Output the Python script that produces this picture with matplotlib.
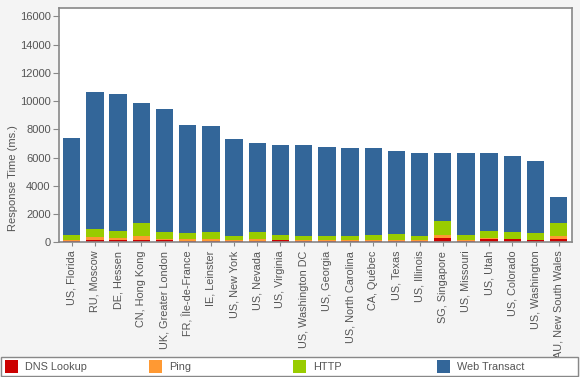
import matplotlib
matplotlib.use("Agg")
import matplotlib.pyplot as plt
import numpy as np
from matplotlib.patches import Rectangle

plt.rcParams['font.family'] = ['Liberation Sans', 'DejaVu Sans']

locations = ["US, Florida", "RU, Moscow", "DE, Hessen", "CN, Hong Kong", "UK, Greater London",
             "FR, Île-de-France", "IE, Leinster", "US, New York", "US, Nevada", "US, Virginia",
             "US, Washington DC", "US, Georgia", "US, North Carolina", "CA, Québec", "US, Texas",
             "US, Illinois", "SG, Singapore", "US, Missouri", "US, Utah", "US, Colorado",
             "US, Washington", "AU, New South Wales"]

total = [7400, 10650, 10500, 9870, 9450, 8310, 8250, 7320, 7040, 6900, 6900, 6760, 6690,
         6690, 6480, 6340, 6340, 6340, 6340, 6120, 5770, 3210]
dns = [110, 190, 190, 190, 190, 110, 110, 90, 110, 165, 90, 90, 90, 90, 90, 90, 280, 90, 230, 230, 165, 236]
ping = [80, 190, 140, 260, 40, 130, 100, 50, 100, 20, 70, 70, 70, 70, 70, 60, 220, 50, 40, 30, 30, 190]
http = [330, 540, 450, 920, 480, 400, 500, 310, 500, 310, 265, 290, 290, 360, 430, 300, 990, 360, 510, 450, 445, 920]
web = [t - d - p - h for t, d, p, h in zip(total, dns, ping, http)]

series_names = ["DNS Lookup", "Ping", "HTTP", "Web Transact"]
series_colors = ["#cc0000", "#ff9933", "#99cc00", "#336699"]
yticks = [0, 2000, 4000, 6000, 8000, 10000, 12000, 14000, 16000]

fig = plt.figure(figsize=(5.8, 3.77), dpi=100, facecolor="#f4f4f4")
ax = fig.add_axes([59/580, 1 - 242.3/377, 512.5/580, 234.3/377])
ax.set_facecolor("white")

x = np.arange(len(locations))
bottom = np.zeros(len(locations))
for vals, col in zip([dns, ping, http, web], series_colors):
    ax.bar(x, vals, width=0.75, bottom=bottom, color=col, linewidth=0)
    bottom += np.array(vals)

ax.set_xlim(-0.55, len(locations) - 0.45)
ax.set_ylim(0, 16600)
ax.set_yticks(yticks)
ax.set_yticklabels([str(v) for v in yticks], fontsize=8, color="#555555")
ax.set_xticks(x)
ax.set_xticklabels(locations, rotation=90, fontsize=7.8, color="#555555")
ax.tick_params(axis='y', length=4, color="#888888", pad=2)
ax.tick_params(axis='x', length=3, color="#888888", pad=3)
for s in ax.spines.values():
    s.set_color("#888888")
    s.set_linewidth(1.2)
ax.set_ylabel("Response Time (ms.)", fontsize=8, color="#555555")
ax.yaxis.set_label_coords((18 - 59) / 512.5, (242.3 - 178) / 234.3)

# legend box
fig.patches.append(Rectangle((1/580, 1/377), 576.7/580, 19/377, transform=fig.transFigure,
                             facecolor="white", edgecolor="#888888", linewidth=1))
leg_x = [5, 149, 293.3, 437]
for name, col, lx in zip(series_names, series_colors, leg_x):
    fig.patches.append(Rectangle((lx/580, (377-373.3)/377), 12.7/580, 13.3/377,
                                 transform=fig.transFigure, facecolor=col, edgecolor="none"))
    fig.text((lx + 20)/580, (377-366.5)/377, name, fontsize=7.8, color="#555555", va="center", ha="left")

fig.savefig("out.png", dpi=100, facecolor=fig.get_facecolor())
